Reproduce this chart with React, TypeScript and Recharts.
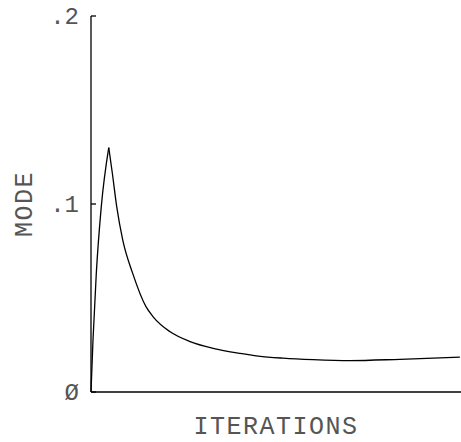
import { LineChart, Line, XAxis, YAxis } from 'recharts';

// iteration index (0..100 across the x axis) and the MODE value
const riseIterations = [0, 0.54, 1.43, 2.78, 4.8];
const riseValues = [0, 0.0277, 0.063, 0.0986, 0.13];

const decayIterations = [4.8, 5.76, 6.95, 8.57, 11.27, 14.86, 16.8, 21.4, 26.8, 33, 40.3, 45.2, 51.9, 60, 70, 83.5, 99.7];
const decayValues = [0.13, 0.1165, 0.0986, 0.0809, 0.0631, 0.0454, 0.04, 0.032, 0.0268, 0.0232, 0.0205, 0.0191, 0.018, 0.0172, 0.0167, 0.0174, 0.0185];

const yTicks = [0, 0.1, 0.2];
const yTickLabels = ['Ø', '.1', '.2'];

const riseData = riseIterations.map((it, i) => ({ it, mode: riseValues[i] }));
const decayData = decayIterations.map((it, i) => ({ it, mode: decayValues[i] }));

const FONT = '"Liberation Mono", "DejaVu Sans Mono", monospace';
const TEXT_COLOR = '#555';

function YTick(props: any) {
    const { x, y, payload } = props;
    const axisX = x + 8;
    const idx = yTicks.indexOf(payload.value);
    return (
        <g>
            <line x1={axisX} x2={axisX + 5} y1={y} y2={y} stroke="#000" strokeWidth={1.3} />
            <text
                x={axisX - 12}
                y={y}
                dy={8}
                textAnchor="end"
                fontFamily={FONT}
                fontSize={24}
                fill={TEXT_COLOR}
            >
                {yTickLabels[idx]}
            </text>
        </g>
    );
}

function ModeLabel(props: any) {
    const vb = props.viewBox;
    const cx = 24;
    const cy = vb.y + vb.height / 2;
    return (
        <text
            x={cx}
            y={cy}
            dy={8}
            textAnchor="middle"
            transform={`rotate(-90, ${cx}, ${cy})`}
            fontFamily={FONT}
            fontSize={25}
            letterSpacing={1.5}
            fill={TEXT_COLOR}
        >
            MODE
        </text>
    );
}

export default function App() {
    return (
        <div style={{ position: 'absolute', left: 0, top: 0, background: '#fff' }}>
            <LineChart width={461} height={442} margin={{ top: 16, right: 0, bottom: 0, left: 0 }}>
                <XAxis
                    dataKey="it"
                    type="number"
                    domain={[0, 100]}
                    tick={false}
                    tickLine={false}
                    height={50}
                    axisLine={{ stroke: '#000', strokeWidth: 1.3 }}
                    label={{
                        value: 'ITERATIONS',
                        position: 'insideBottom',
                        offset: 8,
                        fontFamily: FONT,
                        fontSize: 25,
                        letterSpacing: 1.5,
                        fill: TEXT_COLOR,
                    }}
                />
                <YAxis
                    type="number"
                    domain={[0, 0.2]}
                    ticks={yTicks}
                    width={91}
                    tickLine={false}
                    tick={<YTick />}
                    axisLine={{ stroke: '#000', strokeWidth: 1.3 }}
                    label={<ModeLabel />}
                />
                <Line
                    data={riseData}
                    type="monotone"
                    dataKey="mode"
                    stroke="#000"
                    strokeWidth={1.3}
                    dot={false}
                    isAnimationActive={false}
                />
                <Line
                    data={decayData}
                    type="monotone"
                    dataKey="mode"
                    stroke="#000"
                    strokeWidth={1.3}
                    dot={false}
                    isAnimationActive={false}
                />
            </LineChart>
        </div>
    );
}
